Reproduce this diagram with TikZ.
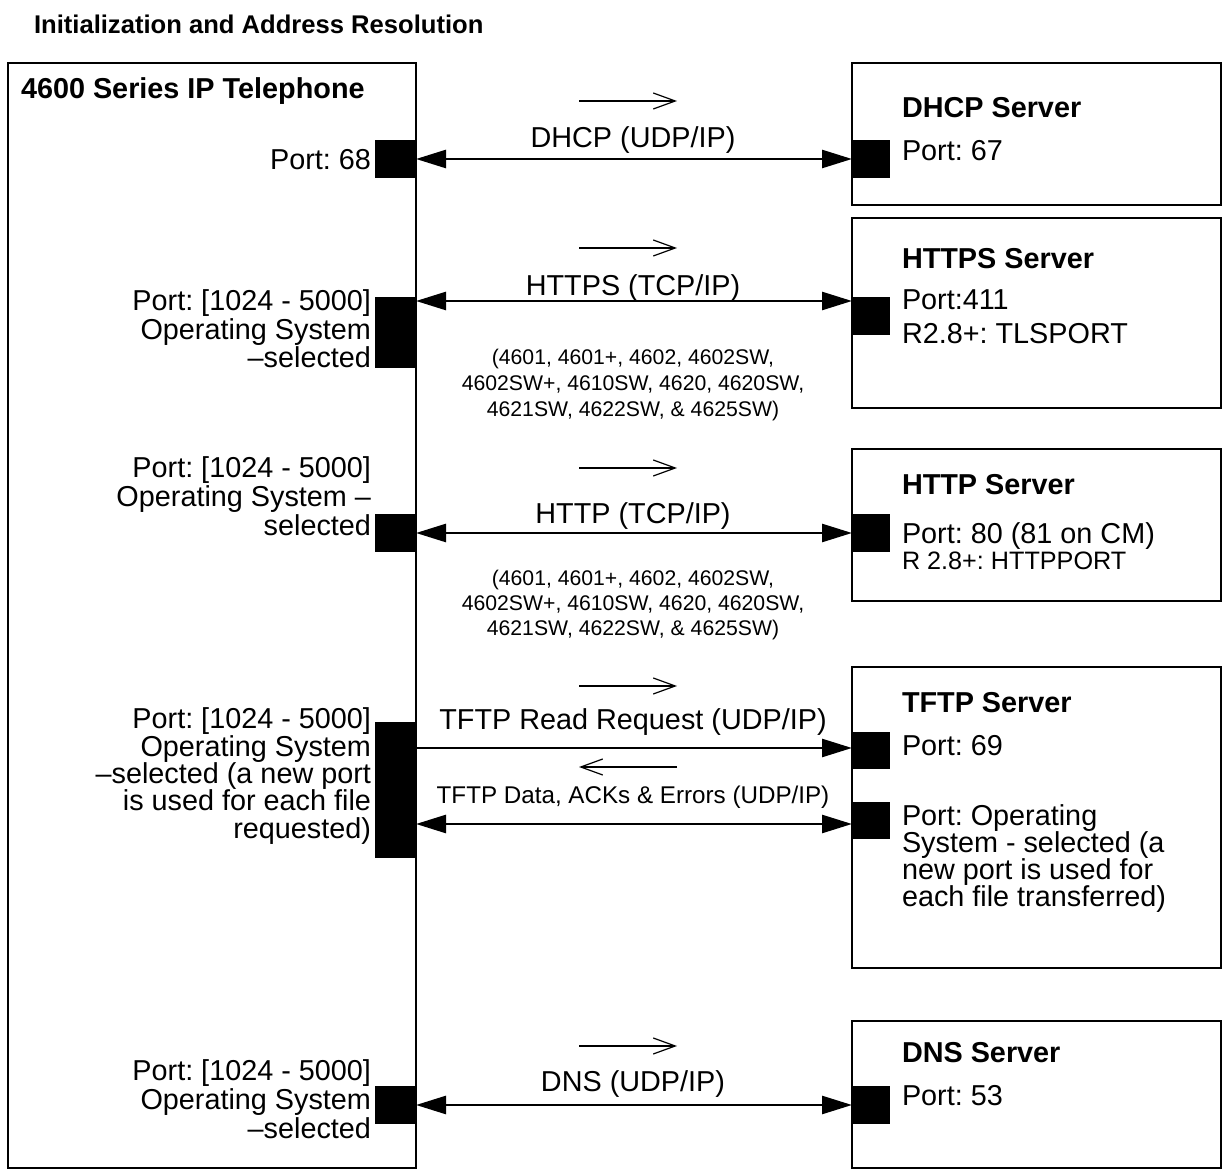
\documentclass[tikz,border=0pt]{standalone}
\usepackage{fontspec}
\setmainfont{Liberation Sans}
\usetikzlibrary{arrows.meta}
\frenchspacing
\newcommand\fmain{\fontsize{14.4pt}{16pt}\selectfont}
\newcommand\fsmall{\fontsize{10.6pt}{12pt}\selectfont}
\newcommand\fmid{\fontsize{12.1pt}{14pt}\selectfont}
\newcommand\frr{\fontsize{12.6pt}{14pt}\selectfont}
\begin{document}
\begin{tikzpicture}[x=0.5pt,y=-0.5pt,
  every node/.style={inner sep=0pt, outer sep=0pt},
  txt/.style={font=\fmain, text height=10.3pt, text depth=0pt},
  smalltxt/.style={font=\fsmall, text height=7.6pt, text depth=0pt},
  midtxt/.style={font=\fmid, text height=8.7pt, text depth=0pt},
  rtxt/.style={font=\frr, text height=9pt, text depth=0pt},
  hd/.style={font=\fmain\bfseries, text height=10.3pt, text depth=0pt},
  ttl/.style={font=\fontsize{12.8pt}{14pt}\selectfont\bfseries, text height=9.2pt, text depth=0pt},
  frame/.style={draw, line width=1pt},
  srv/.style={frame, minimum width=184.5pt},
  portL/.style={fill=black, minimum width=20.5pt},
  portR/.style={fill=black, minimum width=19pt},
  link/.style={line width=1.3pt},
  both/.style={link, {Triangle[length=15pt,width=9pt]}-{Triangle[length=15pt,width=9pt]}},
  fwd/.style={link, -{Triangle[length=15pt,width=9pt]}},
  ind/.style={line width=0.6pt, -{Straight Barb[length=11pt,width=8pt]}}
]
\useasboundingbox (0,0) rectangle (1223,1170);

% title
\node[ttl, anchor=west] (title) at (34,24) {Initialization and Address Resolution};

% phone box
\node[frame, minimum width=204pt, minimum height=552.5pt] (phone) at (212,615.5) {};
\node[hd, anchor=west] (phoneT) at (21,88) {4600 Series IP Telephone};

% server boxes
\node[srv, minimum height=71pt] (dhcp) at (1036.5,134) {};
\node[srv, minimum height=95pt] (https) at (1036.5,313) {};
\node[srv, minimum height=76pt] (http) at (1036.5,525) {};
\node[srv, minimum height=150.5pt] (tftp) at (1036.5,817.5) {};
\node[srv, minimum height=73.5pt] (dns) at (1036.5,1094.5) {};

% ---- DHCP
\node[hd, anchor=west] (dhcpT) at (902,107) {DHCP Server};
\node[txt, anchor=west] (dhcpP) at (902,150) {Port: 67};
\node[portL, minimum height=19pt] (pL1) at (395.5,159) {};
\node[portR, minimum height=19pt] (pR1) at (871,159) {};
\node[txt, anchor=east] (lp1) at (371,159) {Port: 68};
\draw[both] (pL1.east) -- (pR1.west);
\node[txt] (c1) at (633,137) {DHCP (UDP/IP)};
\coordinate (i1a) at (579,101); \coordinate (i1b) at (677,101);
\draw[ind] (i1a) -- (i1b);

% ---- HTTPS
\node[hd, anchor=west] (httpsT) at (902,258) {HTTPS Server};
\node[txt, anchor=west] (httpsP) at (902,299) {Port:411};
\node[txt, anchor=west] (httpsR) at (902,333) {R2.8+: TLSPORT};
\node[portL, minimum height=35.5pt] (pL2) at (395.5,332.5) {};
\node[portR, minimum height=19pt] (pR2) at (871,316) {};
\coordinate (a2) at (633,301);
\draw[both] (pL2.east |- a2) -- (pR2.west |- a2);
\node[txt] (c2) at (633,285) {HTTPS (TCP/IP)};
\coordinate (i2a) at (579,248); \coordinate (i2b) at (677,248);
\draw[ind] (i2a) -- (i2b);
\node[smalltxt] (m2a) at (633,357) {(4601, 4601+, 4602, 4602SW,};
\node[smalltxt] (m2b) at (633,383) {4602SW+, 4610SW, 4620, 4620SW,};
\node[smalltxt] (m2c) at (633,409) {4621SW, 4622SW, \& 4625SW)};
\node[txt, anchor=east] (lp2a) at (371,300) {Port: [1024 - 5000]};
\node[txt, anchor=east] (lp2b) at (371,329) {Operating System};
\node[txt, anchor=east] (lp2c) at (371,357) {–selected};

% ---- HTTP
\node[hd, anchor=west] (httpT) at (902,484) {HTTP Server};
\node[txt, anchor=west] (httpP) at (902,533) {Port: 80 (81 on CM)};
\node[rtxt, anchor=west] (httpR) at (902,561) {R 2.8+: HTTPPORT};
\node[portL, minimum height=19pt] (pL3) at (395.5,533) {};
\node[portR, minimum height=19pt] (pR3) at (871,533) {};
\draw[both] (pL3.east) -- (pR3.west);
\node[txt] (c3) at (633,513) {HTTP (TCP/IP)};
\coordinate (i3a) at (579,468); \coordinate (i3b) at (677,468);
\draw[ind] (i3a) -- (i3b);
\node[smalltxt] (m3a) at (633,578) {(4601, 4601+, 4602, 4602SW,};
\node[smalltxt] (m3b) at (633,603) {4602SW+, 4610SW, 4620, 4620SW,};
\node[smalltxt] (m3c) at (633,628) {4621SW, 4622SW, \& 4625SW)};
\node[txt, anchor=east] (lp3a) at (371,467) {Port: [1024 - 5000]};
\node[txt, anchor=east] (lp3b) at (371,496) {Operating System –};
\node[txt, anchor=east] (lp3c) at (371,525) {selected};

% ---- TFTP
\node[hd, anchor=west] (tftpT) at (902,702) {TFTP Server};
\node[txt, anchor=west] (tftpP) at (902,745) {Port: 69};
\node[txt, anchor=west] (tftpQa) at (902,815) {Port: Operating};
\node[txt, anchor=west] (tftpQb) at (902,842) {System - selected (a};
\node[txt, anchor=west] (tftpQc) at (902,869) {new port is used for};
\node[txt, anchor=west] (tftpQd) at (902,896) {each file transferred)};
\node[portL, minimum height=68pt] (pL4) at (395.5,790) {};
\node[portR, minimum height=18.5pt] (pR4a) at (871,751) {};
\node[portR, minimum height=18.5pt] (pR4b) at (871,821) {};
\coordinate (a4a) at (633,748);
\coordinate (a4b) at (633,824);
\draw[fwd] (pL4.east |- a4a) -- (pR4a.west |- a4a);
\draw[both] (pL4.east |- a4b) -- (pR4b.west |- a4b);
\node[txt] (c4a) at (633,719) {TFTP Read Request (UDP/IP)};
\node[midtxt] (c4b) at (633,795) {TFTP Data, ACKs \& Errors (UDP/IP)};
\coordinate (i4a) at (579,686); \coordinate (i4b) at (677,686);
\draw[ind] (i4a) -- (i4b);
\coordinate (i5a) at (579,767); \coordinate (i5b) at (677,767);
\draw[ind] (i5b) -- (i5a);
\node[txt, anchor=east] (lp4a) at (371,718) {Port: [1024 - 5000]};
\node[txt, anchor=east] (lp4b) at (371,746) {Operating System};
\node[txt, anchor=east] (lp4c) at (371,773) {–selected (a new port};
\node[txt, anchor=east] (lp4d) at (371,800) {is used for each file};
\node[txt, anchor=east] (lp4e) at (371,828) {requested)};

% ---- DNS
\node[hd, anchor=west] (dnsT) at (902,1052) {DNS Server};
\node[txt, anchor=west] (dnsP) at (902,1095) {Port: 53};
\node[portL, minimum height=19pt] (pL5) at (395.5,1105) {};
\node[portR, minimum height=19pt] (pR5) at (871,1105) {};
\draw[both] (pL5.east) -- (pR5.west);
\node[txt] (c5) at (633,1081) {DNS (UDP/IP)};
\coordinate (i6a) at (579,1046); \coordinate (i6b) at (677,1046);
\draw[ind] (i6a) -- (i6b);
\node[txt, anchor=east] (lp5a) at (371,1070) {Port: [1024 - 5000]};
\node[txt, anchor=east] (lp5b) at (371,1099) {Operating System};
\node[txt, anchor=east] (lp5c) at (371,1128) {–selected};
\end{tikzpicture}
\end{document}
